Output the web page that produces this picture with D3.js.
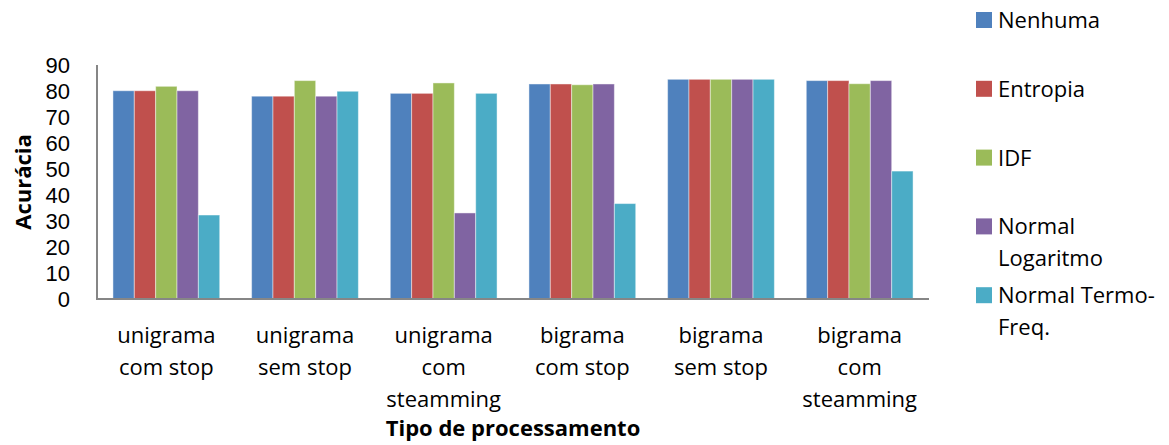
<!DOCTYPE html>
<html>
<head>
<meta charset="utf-8">
<script src="https://cdn.jsdelivr.net/npm/d3@7"></script>
<style>
  html, body { margin: 0; padding: 0; background: #fff; }
  svg { display: block; font-family: "Open Sans", "Noto Sans", sans-serif; }
</style>
</head>
<body>
<svg id="chart" width="1169" height="445"></svg>
<script>
// Categories (line breaks mark where each label wraps)
const categories = [
  "unigrama\ncom stop",
  "unigrama\nsem stop",
  "unigrama\ncom\nsteamming",
  "bigrama\ncom stop",
  "bigrama\nsem stop",
  "bigrama\ncom\nsteamming"
];

// Series names shown in the legend
const seriesNames = ["Nenhuma", "Entropia", "IDF", "Normal\nLogaritmo", "Normal Termo-\nFreq."];

// Accuracy per series, one value per category
const nenhuma        = [80.1, 78.0, 79.1, 82.7, 84.5, 84.0];
const entropia       = [80.1, 78.0, 79.1, 82.7, 84.5, 84.0];
const idf            = [81.8, 84.0, 83.1, 82.4, 84.5, 82.8];
const normalLog      = [80.1, 78.0, 33.1, 82.7, 84.5, 84.0];
const normalTermFreq = [32.3, 79.9, 79.1, 36.7, 84.5, 49.2];

const yTicks = [0, 10, 20, 30, 40, 50, 60, 70, 80, 90];
const colors = ["#4F81BD", "#C0504D", "#9BBB59", "#8064A2", "#4BACC6"];

const seriesValues = [nenhuma, entropia, idf, normalLog, normalTermFreq];

const svg = d3.select("#chart");
const plot = { left: 97, right: 929, top: 65, bottom: 299 };

const x0 = d3.scaleBand()
  .domain(d3.range(categories.length))
  .range([plot.left, plot.right])
  .paddingInner(0.23)
  .paddingOuter(0.115);

const x1 = d3.scaleBand()
  .domain(d3.range(seriesNames.length))
  .range([0, x0.bandwidth()])
  .padding(0);

const y = d3.scaleLinear().domain([0, 90]).range([plot.bottom, plot.top]);

// Bars
const groups = svg.append("g").selectAll("g")
  .data(categories.map((c, i) => i))
  .join("g")
  .attr("transform", i => `translate(${x0(i)},0)`);

groups.selectAll("rect")
  .data(i => seriesValues.map((vals, s) => ({ s, v: vals[i] })))
  .join("rect")
  .attr("x", d => x1(d.s))
  .attr("y", d => y(d.v))
  .attr("width", x1.bandwidth())
  .attr("height", d => y(0) - y(d.v))
  .attr("fill", d => colors[d.s])
  .attr("stroke", "rgba(255,255,255,0.45)")
  .attr("stroke-width", 1);

// Y axis (compact digits so the tightly spaced labels don't collide)
const yAxis = d3.axisLeft(y).tickValues(yTicks).tickSize(0).tickPadding(27);
const yg = svg.append("g").attr("transform", `translate(${plot.left},0)`).call(yAxis);
yg.select(".domain").remove();
yg.selectAll("text")
  .attr("font-size", 22)
  .attr("font-family", "\"Liberation Sans\", Arial, sans-serif")
  .attr("fill", "#000");

// Axis lines
svg.append("line")
  .attr("x1", plot.left).attr("x2", plot.left)
  .attr("y1", y(90)).attr("y2", y(0) + 1)
  .attr("stroke", "#868686").attr("stroke-width", 2);
svg.append("line")
  .attr("x1", plot.left - 1).attr("x2", plot.right)
  .attr("y1", y(0)).attr("y2", y(0))
  .attr("stroke", "#868686").attr("stroke-width", 2);

// Category labels
const catLabels = svg.append("g").selectAll("text")
  .data(categories)
  .join("text")
  .attr("text-anchor", "middle")
  .attr("font-size", 22)
  .attr("fill", "#000")
  .attr("transform", (c, i) => `translate(${x0(i) + x0.bandwidth() / 2},343)`);
catLabels.selectAll("tspan")
  .data(c => c.split("\n"))
  .join("tspan")
  .attr("x", 0)
  .attr("y", (d, k) => k * 32)
  .text(d => d);

// Axis titles
svg.append("text")
  .attr("x", (plot.left + plot.right) / 2)
  .attr("y", 436)
  .attr("text-anchor", "middle")
  .attr("font-size", 22)
  .attr("font-weight", "bold")
  .attr("fill", "#000")
  .text("Tipo de processamento");

svg.append("text")
  .attr("transform", `translate(31,${(plot.top + plot.bottom) / 2}) rotate(-90)`)
  .attr("text-anchor", "middle")
  .attr("font-size", 22)
  .attr("font-weight", "bold")
  .attr("fill", "#000")
  .text("Acurácia");

// Legend
const legend = svg.append("g").selectAll("g")
  .data(seriesNames)
  .join("g")
  .attr("transform", (d, i) => `translate(976,${20 + i * 68.8})`);

legend.append("rect")
  .attr("x", 0).attr("y", -8)
  .attr("width", 16).attr("height", 16)
  .attr("fill", (d, i) => colors[i]);

const legendText = legend.append("text")
  .attr("font-size", 22)
  .attr("fill", "#000");
legendText.selectAll("tspan")
  .data(d => d.split("\n"))
  .join("tspan")
  .attr("x", 22)
  .attr("y", (d, k) => 8 + k * 32)
  .text(d => d);
</script>
</body>
</html>
